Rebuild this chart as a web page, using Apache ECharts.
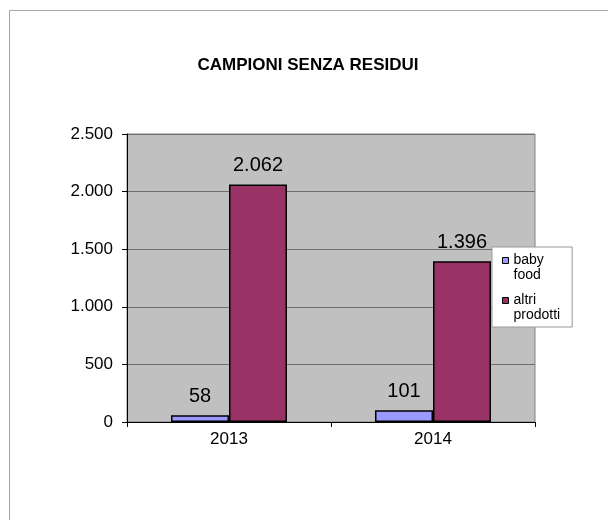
<!DOCTYPE html>
<html>
<head>
<meta charset="utf-8">
<script src="https://cdn.jsdelivr.net/npm/echarts@6/dist/echarts.min.js"></script>
<style>
  html, body { margin: 0; padding: 0; background: #fff; }
  #chart { width: 608px; height: 520px; }
</style>
</head>
<body>
<div id="chart"></div>
<script>
// Campioni senza residui, per anno
const years = ['2013', '2014'];
const babyFood = [58, 101];
const altriProdotti = [2062, 1396];
const seriesNames = ['baby food', 'altri prodotti'];
// leading empty line: the text block is centred on the marker, so the
// marker ends up level with the first visible line
const legendLabels = { 'baby food': '\nbaby\nfood', 'altri prodotti': '\naltri\nprodotti' };
const yTicks = { min: 0, max: 2500, interval: 500 };

const FONT = '"Liberation Sans", Arial, sans-serif';
const fmtThousands = v => String(v).replace(/\B(?=(\d{3})+(?!\d))/g, '.');

const chart = echarts.init(document.getElementById('chart'), null, { renderer: 'canvas' });

const barLabel = {
  show: true,
  position: 'top',
  distance: 9,
  color: '#000',
  fontFamily: FONT,
  fontSize: 20,
  formatter: p => fmtThousands(p.value)
};

chart.setOption({
  backgroundColor: '#fff',
  animation: false,
  title: {
    text: 'CAMPIONI SENZA RESIDUI',
    left: 303,
    textAlign: 'center',
    top: 52,
    textStyle: { fontFamily: FONT, fontSize: 17, fontWeight: 'bold', color: '#000' }
  },
  graphic: [
    {
      type: 'rect',
      silent: true,
      shape: { x: 9.5, y: 10.5, width: 700, height: 600 },
      style: { fill: 'none', stroke: '#a6a6a6', lineWidth: 1 },
      z: -1
    }
  ],
  legend: {
    orient: 'vertical',
    left: 492,
    top: 247,
    padding: [-9, 12, 4, 10],
    backgroundColor: '#fff',
    borderColor: '#999',
    borderWidth: 1,
    itemWidth: 6,
    itemHeight: 6,
    itemGap: -5,
    icon: 'rect',
    itemStyle: { borderColor: '#000', borderWidth: 1 },
    data: seriesNames,
    formatter: n => legendLabels[n],
    textStyle: {
      fontFamily: FONT,
      fontSize: 14,
      color: '#000',
      lineHeight: 15
    }
  },
  grid: {
    left: 127,
    right: 73,
    top: 134,
    bottom: 98,
    show: true,
    backgroundColor: '#c0c0c0',
    borderColor: '#808080',
    borderWidth: 1
  },
  xAxis: {
    type: 'category',
    data: years,
    axisLine: { show: true, lineStyle: { color: '#000', width: 1 } },
    axisTick: { show: true, inside: false, length: 5, alignWithLabel: false, lineStyle: { color: '#000' } },
    axisLabel: { color: '#000', fontFamily: FONT, fontSize: 17, margin: 9 },
    splitLine: { show: false }
  },
  yAxis: {
    type: 'value',
    min: yTicks.min,
    max: yTicks.max,
    interval: yTicks.interval,
    axisLine: { show: true, lineStyle: { color: '#000', width: 1 } },
    axisTick: { show: true, length: 5, lineStyle: { color: '#000' } },
    axisLabel: { color: '#000', fontFamily: FONT, fontSize: 17, margin: 14, formatter: fmtThousands },
    splitLine: { show: true, lineStyle: { color: '#707070', width: 1 } }
  },
  series: [
    {
      name: seriesNames[0],
      type: 'bar',
      data: babyFood,
      barWidth: 58,
      barGap: '0%',
      itemStyle: { color: '#9999ff', borderColor: '#000', borderWidth: 1.5 },
      label: barLabel
    },
    {
      name: seriesNames[1],
      type: 'bar',
      data: altriProdotti,
      barWidth: 58,
      barGap: '0%',
      itemStyle: { color: '#993366', borderColor: '#000', borderWidth: 1.5 },
      label: barLabel
    }
  ]
});
</script>
</body>
</html>
